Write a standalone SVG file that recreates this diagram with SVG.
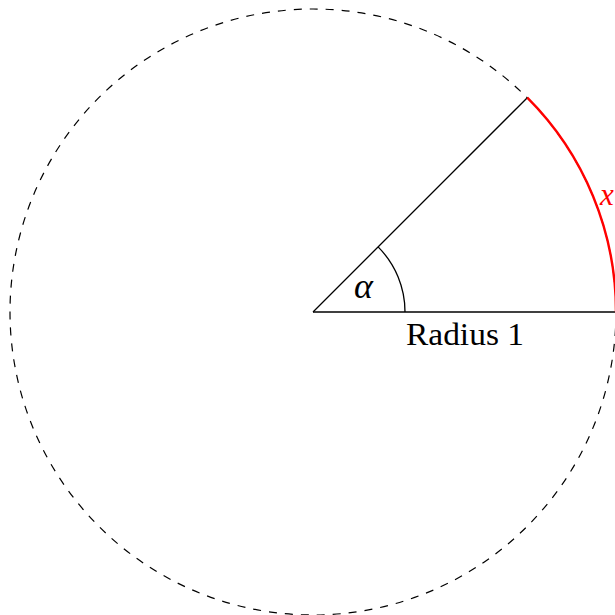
<svg xmlns="http://www.w3.org/2000/svg" width="615" height="615" viewBox="0 0 615 615">
<style>
.dash{fill:none;stroke:#000;stroke-width:1.2;stroke-dasharray:8 8}
.ln{fill:none;stroke:#000;stroke-width:1.3}
.red{fill:none;stroke:#ff0000;stroke-width:2.4}
.t{font-family:"Liberation Serif",serif;font-size:31px;fill:#000}
</style>
<rect width="615" height="615" fill="#fff"/>
<g id="circle">
<circle class="dash" cx="313" cy="312" r="303"/>
</g>
<g id="connectors">
<line class="ln" x1="313" y1="312" x2="615" y2="312"/>
<line class="ln" x1="313" y1="312" x2="527.3" y2="97.7"/>
<path class="ln" d="M 405 312 A 92 92 0 0 0 378.1 246.9"/>
<path class="red" d="M 527.3 97.7 A 303 303 0 0 1 616 312"/>
</g>
<g id="labels">
<text class="t" x="406" y="345" textLength="118" lengthAdjust="spacingAndGlyphs">Radius 1</text>
<text class="t" x="354" y="298" font-size="36" style="font-size:36px" font-style="italic">α</text>
<text class="t" x="600" y="205" font-style="italic" style="fill:#ff0000">x</text>
</g>
</svg>
